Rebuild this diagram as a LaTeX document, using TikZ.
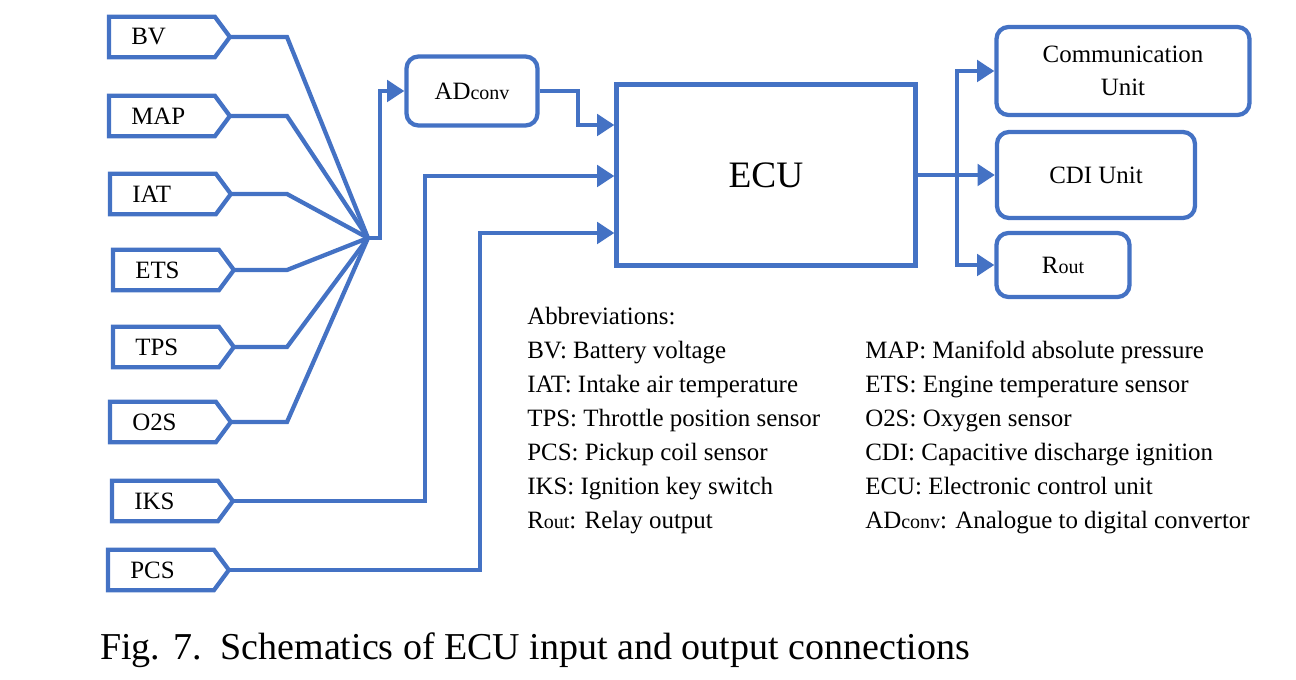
\documentclass[tikz,border=0pt]{standalone}
\usepackage{fontspec}
\setmainfont{Liberation Serif}
\usetikzlibrary{arrows.meta}
\definecolor{wblue}{RGB}{68,114,196}
\begin{document}
\begin{tikzpicture}[x=0.75pt,y=-0.75pt,
  bline/.style={draw=wblue,line width=3.2pt},
  arr/.style={-{Triangle[length=13pt,width=16pt]}},
  inbody/.style={inner xsep=16.5pt,inner ysep=0pt,text width=46pt,align=left,
     minimum height=30pt,font=\fontsize{18.7}{22}\selectfont},
  rbox/.style={bline,rounded corners=9pt,align=center,inner sep=0pt,
     font=\fontsize{18.7}{25}\selectfont},
  abbr/.style={align=left,inner sep=0pt,anchor=north west,
     font=\fontsize{18.7}{25.5}\selectfont}]
\useasboundingbox (0,0) rectangle (1296,680);
\newcommand{\smallsub}[1]{{\fontsize{15}{15}\selectfont #1}}
% input sensors
\foreach \n/\t/\x/\y in {bv/BV/109/37, map/MAP/109/116, iat/IAT/110/194,
   ets/ETS/113/270, tps/TPS/113/347, o2s/O2S/110/422, iks/IKS/112/501, pcs/PCS/108/570}{
  \node[inbody,anchor=west] (\n) at (\x,\y) {\t};
  \coordinate (\n-tip) at ([xshift=11.25pt]\n.east);
  \draw[bline] (\n.north west) -- (\n.north east) -- (\n-tip) -- (\n.south east)
     -- (\n.south west) -- cycle;
}
% boxes
\node[rbox,minimum width=98.25pt,minimum height=51.75pt] (ad) at (472,91)
   {\raisebox{-1.5pt}{AD\smallsub{conv}}};
\node[bline,minimum width=224.25pt,minimum height=135.75pt,inner sep=0pt,
   font=\fontsize{28}{30}\selectfont] (ecu) at (766,175) {\raisebox{-2.5pt}{ECU}};
\node[rbox,minimum width=189.75pt,minimum height=66pt] (comm) at (1123,71)
   {\raisebox{-2pt}{Communication}\\\raisebox{-2pt}{Unit}};
\node[rbox,minimum width=148.5pt,minimum height=64.5pt] (cdi) at (1096,175)
   {\raisebox{-1pt}{CDI Unit}};
\node[rbox,minimum width=99.75pt,minimum height=48pt] (rout) at (1063,265)
   {\raisebox{-1pt}{R\smallsub{out}}};
% fan-in to AD converter
\coordinate (m) at (368,238);
\coordinate (m2) at (380,238);
\foreach \n/\y in {bv/37, map/116, iat/194, ets/270, tps/347, o2s/422}{
  \draw[bline] (\n-tip) -- (287,\y) -- (m);
}
\draw[bline,arr] (m) -- (m2) |- (ad.west);
% into ECU
\coordinate (adbend) at (578,125);
\coordinate (iksbend) at (425,176);
\coordinate (pcsbend) at (480,233);
\draw[bline,arr] (ad.east) -| (adbend) -- (adbend -| ecu.west);
\draw[bline,arr] (iks-tip) -| (iksbend) -- (iksbend -| ecu.west);
\draw[bline,arr] (pcs-tip) -| (pcsbend) -- (pcsbend -| ecu.west);
% outputs
\coordinate (os) at (957,175);
\draw[bline,arr] (ecu.east) -- (cdi.west);
\draw[bline,arr] (os) |- (comm.west);
\draw[bline,arr] (os) |- (rout.west);
% abbreviations
\node[abbr] (abl) at (527,307) {Abbreviations:\\
BV: Battery voltage\\
IAT: Intake air temperature\\
TPS: Throttle position sensor\\
PCS: Pickup coil sensor\\
IKS: Ignition key switch\\
R\smallsub{out}: Relay output};
\node[abbr] (abr) at (865,341) {MAP: Manifold absolute pressure\\
ETS: Engine temperature sensor\\
O2S: Oxygen sensor\\
CDI: Capacitive discharge ignition\\
ECU: Electronic control unit\\
AD\smallsub{conv}: Analogue to digital convertor};
% caption
\node[anchor=west,inner sep=0pt,font=\fontsize{28.5}{30}\selectfont] (cap) at (100,650)
   {Fig. 7.\ \ Schematics of ECU input and output connections};
\end{tikzpicture}
\end{document}
